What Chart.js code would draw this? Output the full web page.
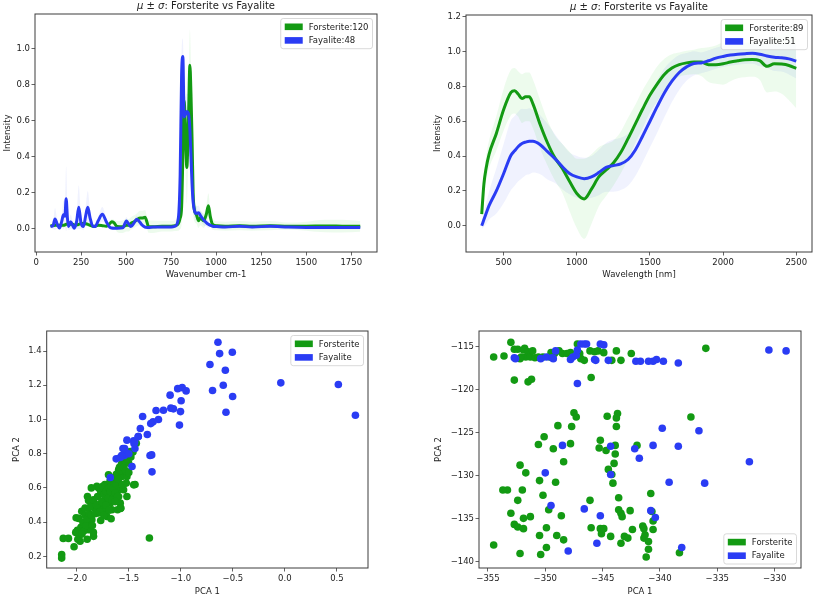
<!DOCTYPE html>
<html>
<head>
<meta charset="utf-8">
<script src="https://cdn.jsdelivr.net/npm/chart.js@4.4.1/dist/chart.umd.min.js"></script>
<style>
  body { margin: 0; background: #fff; width: 817px; height: 597px; position: relative; overflow: hidden; }
  canvas { position: absolute; }
</style>
</head>
<body>
<canvas id="ramanChart" width="408" height="290" style="left:0;top:0"></canvas>
<canvas id="vnirChart" width="409" height="290" style="left:408px;top:0"></canvas>
<canvas id="pcaRamanChart" width="408" height="307" style="left:0;top:290px"></canvas>
<canvas id="pcaVnirChart" width="409" height="307" style="left:408px;top:290px"></canvas>
<script>
// ---- data ----
const seriesNames = ["Forsterite", "Fayalite"];
const ramanCounts = [120, 48];
const vnirCounts = [89, 51];

const ramanShift = [80, 95, 105, 118, 130, 142, 152, 160, 167, 174, 180, 192, 205, 211, 225, 237, 250, 263, 275, 287,
  300, 315, 328, 345, 368, 390, 410, 420, 432, 450, 481, 502, 515, 526, 545, 559, 578, 590, 605, 615,
  624, 650, 700, 750, 772, 790, 800, 808, 815, 822, 828, 837, 846, 854, 860, 866, 872, 880, 890, 902,
  912, 930, 945, 957, 967, 980, 1004, 1050, 1130, 1200, 1300, 1400, 1500, 1600, 1700, 1800];
const ramanFo = [0.017, 0.018, 0.02, 0.02, 0.02, 0.02, 0.02, 0.022, 0.025, 0.025, 0.025, 0.025, 0.025, 0.022, 0.022,
  0.025, 0.03, 0.03, 0.028, 0.025, 0.02, 0.015, 0.015, 0.02, 0.018, 0.015, 0.03, 0.04, 0.035, 0.013,
  0.012, 0.02, 0.02, 0.03, 0.04, 0.05, 0.06, 0.06, 0.065, 0.04, 0.013, 0.012, 0.015, 0.015, 0.018,
  0.03, 0.06, 0.12, 0.4, 0.71, 0.6, 0.34, 0.6, 0.906, 0.75, 0.5, 0.2, 0.1, 0.08, 0.045,
  0.06, 0.045, 0.08, 0.128, 0.07, 0.025, 0.017, 0.015, 0.018, 0.015, 0.018, 0.015, 0.015, 0.016, 0.015, 0.014];
const ramanFa = [0.013, 0.02, 0.055, 0.025, 0.005, 0.04, 0.078, 0.07, 0.167, 0.06, 0.013, 0.04, 0.015, 0.004, 0.04,
  0.12, 0.03, 0.013, 0.07, 0.12, 0.06, 0.015, 0.013, 0.045, 0.081, 0.04, 0.008, 0.005, 0.004, 0.004,
  0.006, 0.044, 0.025, 0.013, 0.035, 0.054, 0.035, 0.02, 0.01, 0.008, 0.007, 0.01, 0.01, 0.01, 0.015,
  0.06, 0.3, 0.85, 0.954, 0.62, 0.63, 0.65, 0.64, 0.55, 0.4, 0.25, 0.15, 0.1, 0.085, 0.09,
  0.075, 0.05, 0.035, 0.025, 0.02, 0.015, 0.013, 0.01, 0.015, 0.01, 0.015, 0.01, 0.008, 0.008, 0.008, 0.008];
const ramanFoStd = [0.01, 0.01, 0.01, 0.01, 0.01, 0.01, 0.012, 0.012, 0.015, 0.012, 0.01, 0.01, 0.01, 0.01, 0.01,
  0.012, 0.012, 0.012, 0.012, 0.012, 0.01, 0.01, 0.01, 0.01, 0.01, 0.01, 0.012, 0.015, 0.015, 0.03,
  0.035, 0.035, 0.035, 0.035, 0.035, 0.035, 0.04, 0.04, 0.04, 0.035, 0.035, 0.035, 0.03, 0.03, 0.03,
  0.04, 0.06, 0.1, 0.15, 0.2, 0.2, 0.2, 0.2, 0.2, 0.18, 0.15, 0.1, 0.06, 0.05, 0.04,
  0.04, 0.04, 0.05, 0.07, 0.04, 0.03, 0.025, 0.025, 0.025, 0.025, 0.025, 0.02, 0.025, 0.035, 0.035, 0.03];
const ramanFaStd = [0.01, 0.02, 0.06, 0.02, 0.01, 0.03, 0.08, 0.06, 0.18, 0.05, 0.02, 0.04, 0.02, 0.01, 0.04,
  0.12, 0.03, 0.02, 0.05, 0.09, 0.04, 0.01, 0.01, 0.02, 0.04, 0.02, 0.01, 0.01, 0.01, 0.01,
  0.01, 0.02, 0.015, 0.01, 0.015, 0.02, 0.015, 0.01, 0.01, 0.01, 0.01, 0.01, 0.01, 0.01, 0.01,
  0.03, 0.08, 0.1, 0.1, 0.1, 0.1, 0.1, 0.1, 0.1, 0.08, 0.06, 0.05, 0.04, 0.04, 0.04,
  0.03, 0.03, 0.02, 0.02, 0.01, 0.01, 0.01, 0.01, 0.01, 0.01, 0.01, 0.01, 0.01, 0.01, 0.01, 0.01];

const vnirWave = [350, 365, 380, 400, 450, 500, 550, 575, 600, 625, 650, 675, 700, 750, 800, 850, 900, 950, 1000, 1050,
  1100, 1150, 1200, 1250, 1300, 1350, 1400, 1450, 1500, 1550, 1600, 1650, 1700, 1750, 1800, 1850, 1900, 1950, 2000, 2050,
  2100, 2150, 2200, 2250, 2300, 2350, 2400, 2450, 2500];
const vnirFo = [0.067, 0.24, 0.33, 0.41, 0.53, 0.667, 0.765, 0.775, 0.755, 0.73, 0.74, 0.74, 0.7, 0.58, 0.475,
  0.39, 0.33, 0.255, 0.185, 0.154, 0.21, 0.28, 0.32, 0.36, 0.42, 0.5, 0.585, 0.67, 0.75, 0.815,
  0.87, 0.905, 0.925, 0.935, 0.94, 0.94, 0.925, 0.925, 0.93, 0.94, 0.947, 0.953, 0.955, 0.948, 0.915,
  0.93, 0.928, 0.92, 0.904];
const vnirFa = [0, 0.035, 0.07, 0.115, 0.2, 0.3, 0.405, 0.43, 0.455, 0.472, 0.48, 0.485, 0.485, 0.465, 0.425,
  0.385, 0.34, 0.3, 0.28, 0.27, 0.28, 0.305, 0.335, 0.345, 0.355, 0.38, 0.435, 0.515, 0.6, 0.685,
  0.765, 0.83, 0.88, 0.912, 0.932, 0.935, 0.947, 0.962, 0.972, 0.98, 0.985, 0.988, 0.99, 0.985, 0.975,
  0.968, 0.965, 0.958, 0.945];
const vnirFoStd = [0.03, 0.05, 0.07, 0.08, 0.1, 0.12, 0.13, 0.13, 0.13, 0.14, 0.14, 0.14, 0.14, 0.14, 0.13,
  0.13, 0.14, 0.17, 0.2, 0.23, 0.2, 0.17, 0.15, 0.13, 0.12, 0.12, 0.11, 0.11, 0.1, 0.1,
  0.09, 0.08, 0.07, 0.07, 0.07, 0.08, 0.1, 0.11, 0.12, 0.11, 0.1, 0.1, 0.1, 0.11, 0.15,
  0.16, 0.17, 0.2, 0.23];
const vnirFaStd = [0.02, 0.04, 0.06, 0.08, 0.13, 0.17, 0.2, 0.2, 0.2, 0.2, 0.19, 0.19, 0.18, 0.17, 0.16,
  0.14, 0.13, 0.12, 0.12, 0.12, 0.12, 0.13, 0.14, 0.15, 0.15, 0.15, 0.15, 0.15, 0.15, 0.15,
  0.14, 0.12, 0.1, 0.08, 0.07, 0.06, 0.06, 0.06, 0.06, 0.06, 0.06, 0.06, 0.06, 0.07, 0.07,
  0.08, 0.08, 0.09, 0.1];

const pcaRamanFo = [[-2.145, 0.21], [-2.145, 0.19], [-2.13, 0.305], [-2.08, 0.305], [-2.026, 0.256], [-2.006, 0.426],
  [-1.981, 0.422], [-1.994, 0.352], [-1.974, 0.326], [-1.968, 0.288], [-1.952, 0.463], [-1.92, 0.482], [-1.897, 0.55],
  [-1.887, 0.527], [-1.897, 0.395], [-1.871, 0.375], [-1.855, 0.414], [-1.887, 0.356], [-1.839, 0.317], [-1.83, 0.511],
  [-1.83, 0.482], [-1.807, 0.472], [-1.791, 0.453], [-1.775, 0.492], [-1.807, 0.609], [-1.759, 0.57], [-1.743, 0.472],
  [-1.717, 0.531], [-1.711, 0.433], [-1.704, 0.589], [-1.678, 0.55], [-1.678, 0.511], [-1.662, 0.472], [-1.646, 0.589],
  [-1.63, 0.628], [-1.646, 0.55], [-1.695, 0.677], [-1.614, 0.628], [-1.598, 0.589], [-1.598, 0.55], [-1.582, 0.511],
  [-1.608, 0.472], [-1.598, 0.706], [-1.566, 0.667], [-1.55, 0.696], [-1.534, 0.745], [-1.518, 0.803], [-1.486, 0.813],
  [-1.502, 0.745], [-1.55, 0.589], [-1.576, 0.482], [-1.518, 0.667], [-1.524, 0.628], [-1.453, 0.618], [-1.428, 0.861],
  [-1.518, 0.55], [-1.302, 0.307], [-2.01, 0.34], [-1.99, 0.3], [-1.96, 0.37], [-1.94, 0.4], [-1.93, 0.35], [-1.92, 0.44],
  [-1.91, 0.38], [-1.9, 0.42], [-1.88, 0.45], [-1.87, 0.49], [-1.86, 0.44], [-1.85, 0.38], [-1.84, 0.53], [-1.82, 0.45],
  [-1.81, 0.5], [-1.8, 0.55], [-1.79, 0.6], [-1.78, 0.46], [-1.77, 0.58], [-1.76, 0.52], [-1.75, 0.61], [-1.74, 0.56],
  [-1.73, 0.62], [-1.72, 0.5], [-1.72, 0.58], [-1.7, 0.62], [-1.7, 0.54], [-1.69, 0.6], [-1.68, 0.64], [-1.68, 0.58],
  [-1.67, 0.61], [-1.66, 0.53], [-1.66, 0.66], [-1.65, 0.6], [-1.64, 0.65], [-1.63, 0.57], [-1.62, 0.62], [-1.62, 0.68],
  [-1.61, 0.55], [-1.6, 0.65], [-1.59, 0.72], [-1.58, 0.7], [-1.57, 0.74], [-1.56, 0.62], [-1.55, 0.72], [-1.54, 0.76],
  [-1.53, 0.7], [-1.52, 0.77], [-1.5, 0.69], [-1.48, 0.78], [-1.46, 0.81], [-1.44, 0.62], [-1.58, 0.48], [-1.63, 0.52],
  [-1.74, 0.44], [-1.77, 0.41], [-1.69, 0.47], [-1.67, 0.42], [-1.84, 0.34], [-1.95, 0.33], [-1.9, 0.3], [-1.86, 0.6]];
const pcaRamanFa = [[-0.643, 1.451], [-0.627, 1.385], [-0.505, 1.393], [-0.72, 1.321], [-0.572, 1.288], [-0.695, 1.169],
  [-0.592, 1.2], [-0.502, 1.134], [-0.566, 1.042], [-0.039, 1.214], [0.514, 1.204], [0.678, 1.025], [-1.103, 1.142],
  [-0.987, 1.186], [-0.949, 1.167], [-0.997, 1.109], [-1.003, 1.046], [-1.096, 1.066], [-1.071, 1.062], [-1.167, 1.054],
  [-1.238, 1.052], [-1.013, 0.967], [-1.215, 1.0], [-1.267, 0.986], [-1.289, 0.976], [-1.367, 1.017], [-1.389, 0.947],
  [-1.322, 0.912], [-1.408, 0.9], [-1.453, 0.875], [-1.441, 0.83], [-1.518, 0.879], [-1.444, 0.867], [-1.556, 0.83],
  [-1.543, 0.789], [-1.569, 0.789], [-1.621, 0.77], [-1.582, 0.778], [-1.469, 0.725], [-1.28, 0.793], [-1.296, 0.789],
  [-1.277, 0.694], [-1.678, 0.661], [-1.45, 0.86], [-1.54, 0.83], [-1.5, 0.8], [-1.41, 0.9], [-1.03, 1.18]];

const pcaVnirFo = [[-354.5, -116.2], [-353.6, -116.1], [-353.0, -114.5], [-352.7, -115.3], [-352.4, -115.3], [-351.8, -115.2],
  [-351.7, -116.2], [-352.1, -116.2], [-352.2, -116.4], [-351.9, -115.4], [-351.5, -115.6], [-351.3, -116.2], [-351.1, -115.5],
  [-350.9, -116.3], [-350.6, -116.2], [-350.2, -116.2], [-349.6, -116.2], [-349.5, -115.7], [-349.2, -115.8], [-348.8, -115.5],
  [-348.5, -115.8], [-348.1, -115.8], [-347.8, -115.7], [-347.2, -114.7], [-347.0, -115.8], [-346.9, -116.4], [-346.6, -116.6],
  [-346.1, -115.5], [-345.7, -115.6], [-345.4, -115.5], [-344.9, -115.7], [-344.2, -116.6], [-343.8, -115.5], [-343.4, -116.6],
  [-342.5, -115.8], [-336.0, -115.2], [-352.7, -118.9], [-351.5, -119.1], [-351.2, -118.8], [-346.0, -118.6],
  [-347.5, -122.7], [-347.3, -123.2], [-348.9, -124.2], [-347.7, -124.3], [-347.8, -126.3], [-348.4, -128.4], [-350.1, -125.5],
  [-350.6, -126.4], [-349.3, -126.9], [-352.2, -128.8], [-351.7, -129.7], [-350.5, -130.6], [-349.1, -130.8], [-353.3, -131.7],
  [-352.0, -131.7], [-352.4, -132.9], [-350.2, -132.3], [-353.0, -134.4], [-351.9, -135.0], [-351.3, -134.8], [-352.7, -135.7],
  [-352.4, -136.0], [-351.9, -136.2], [-349.9, -136.1], [-350.5, -137.0], [-349.9, -138.4], [-350.4, -139.2], [-352.2, -139.1],
  [-354.5, -138.1], [-353.7, -131.7], [-349.7, -134.0], [-348.6, -134.7], [-349.0, -137.0], [-348.4, -137.5], [-346.1, -132.9],
  [-346.0, -136.1], [-345.2, -125.9], [-345.3, -126.8], [-345.2, -136.2], [-345.1, -136.8], [-344.9, -136.2], [-344.7, -127.1],
  [-344.5, -129.3], [-344.2, -129.9], [-344.1, -130.9], [-344.0, -128.6], [-343.9, -127.5], [-343.9, -126.5], [-343.8, -124.3],
  [-343.7, -122.8], [-343.8, -123.3], [-344.6, -123.1], [-343.6, -132.6], [-343.6, -134.0], [-343.4, -134.4], [-343.3, -134.8],
  [-344.3, -137.1], [-343.4, -137.9], [-343.1, -137.1], [-342.8, -137.3], [-342.6, -134.1], [-342.4, -136.3], [-342.0, -126.5],
  [-341.5, -135.9], [-341.4, -136.2], [-341.4, -137.3], [-341.3, -136.9], [-341.2, -139.5], [-341.0, -138.6], [-341.0, -137.7],
  [-340.8, -132.1], [-340.7, -134.2], [-340.6, -135.3], [-340.6, -136.3], [-338.3, -139.0], [-337.3, -123.2]];
const pcaVnirFa = [[-352.7, -116.3], [-352.6, -116.4], [-350.4, -116.4], [-349.9, -116.2], [-349.4, -116.3], [-349.3, -116.4],
  [-349.1, -115.5], [-347.8, -116.5], [-347.6, -116.2], [-347.3, -116.0], [-347.2, -115.4], [-346.9, -114.7], [-346.6, -114.7],
  [-346.4, -114.7], [-345.7, -116.5], [-345.6, -116.6], [-345.2, -114.7], [-344.9, -114.8], [-344.5, -116.6], [-342.1, -116.7],
  [-341.7, -116.7], [-341.0, -116.7], [-340.6, -116.7], [-340.3, -116.5], [-339.7, -116.7], [-338.4, -116.9], [-347.2, -119.3],
  [-330.5, -115.4], [-329.0, -115.5], [-348.5, -126.5], [-350.0, -129.7], [-349.5, -133.5], [-346.6, -133.9], [-345.2, -134.7],
  [-345.5, -137.9], [-348.0, -138.8], [-344.3, -126.6], [-344.3, -129.9], [-342.2, -126.9], [-341.8, -128.0], [-340.6, -126.5],
  [-340.8, -134.1], [-340.4, -134.9], [-339.8, -124.5], [-339.2, -130.8], [-338.4, -126.6], [-338.1, -138.4], [-336.6, -124.8],
  [-336.1, -130.9], [-332.2, -128.4]];

const ramanXTicks = [0, 250, 500, 750, 1000, 1250, 1500, 1750];
const ramanYTicks = [0, 0.2, 0.4, 0.6, 0.8, 1.0];
const vnirXTicks = [500, 1000, 1500, 2000, 2500];
const vnirYTicks = [0, 0.2, 0.4, 0.6, 0.8, 1.0, 1.2];
const pcaRamanXTicks = [-2.0, -1.5, -1.0, -0.5, 0.0, 0.5];
const pcaRamanYTicks = [0.2, 0.4, 0.6, 0.8, 1.0, 1.2, 1.4];
const pcaVnirXTicks = [-355, -350, -345, -340, -335, -330];
const pcaVnirYTicks = [-140, -135, -130, -125, -120, -115];

// ---- styling ----
const colors = {
  green: "#139a13",
  blue: "#2a3cf4",
  greenBand: "rgba(0, 200, 0, 0.07)",
  blueBand: "rgba(40, 70, 240, 0.07)",
  text: "#222",
  spine: "#3c3c3c",
};
const titleParts = [["μ", true], [" ± ", false], ["σ", true], [": Forsterite vs Fayalite", false]];

Chart.defaults.font.family = "'DejaVu Sans', sans-serif";
Chart.defaults.font.size = 8.5;
Chart.defaults.color = colors.text;

function roundRect(ctx, x, y, w, h, r) {
  ctx.beginPath();
  ctx.moveTo(x + r, y);
  ctx.lineTo(x + w - r, y);
  ctx.arcTo(x + w, y, x + w, y + r, r);
  ctx.lineTo(x + w, y + h - r);
  ctx.arcTo(x + w, y + h, x + w - r, y + h, r);
  ctx.lineTo(x + r, y + h);
  ctx.arcTo(x, y + h, x, y + h - r, r);
  ctx.lineTo(x, y + r);
  ctx.arcTo(x, y, x + r, y, r);
  ctx.closePath();
}

// box around the plot area, optional title, matplotlib style legend
const framePlugin = {
  id: "frame",
  afterDraw(chart, args, opts) {
    const { ctx, chartArea: a } = chart;
    ctx.save();
    ctx.strokeStyle = colors.spine;
    ctx.lineWidth = 1;
    ctx.strokeRect(a.left, a.top, a.right - a.left, a.bottom - a.top);

    if (opts.title) {
      const fonts = (it) => `${it ? "oblique " : ""}10px 'DejaVu Sans', sans-serif`;
      let total = 0;
      opts.title.forEach(([t, it]) => { ctx.font = fonts(it); total += ctx.measureText(t).width; });
      let x = (a.left + a.right) / 2 - total / 2;
      ctx.fillStyle = colors.text;
      ctx.textBaseline = "middle";
      ctx.textAlign = "left";
      opts.title.forEach(([t, it]) => {
        ctx.font = fonts(it);
        ctx.fillText(t, x, a.top - 8);
        x += ctx.measureText(t).width;
      });
    }

    if (opts.legend) {
      ctx.font = "8.5px 'DejaVu Sans', sans-serif";
      const items = opts.legend;
      const textW = Math.max(...items.map((it) => ctx.measureText(it.label).width));
      const rowH = 13.6;
      const w = 4 + 18 + 6 + textW + 4;
      const h = items.length * rowH + 3;
      const x = a.right - 4.5 - w;
      const y = opts.legendCorner === "bottom" ? a.bottom - 4 - h : a.top + 4.5;
      roundRect(ctx, x, y, w, h, 2.5);
      ctx.fillStyle = "rgba(255,255,255,0.85)";
      ctx.fill();
      ctx.strokeStyle = "#cfcfcf";
      ctx.lineWidth = 0.8;
      ctx.stroke();
      ctx.textBaseline = "middle";
      items.forEach((it, i) => {
        const cy = y + 1.5 + rowH * (i + 0.5);
        ctx.fillStyle = it.color;
        ctx.fillRect(x + 4, cy - 3.3, 18, 6.6);
        ctx.fillStyle = colors.text;
        ctx.fillText(it.label, x + 4 + 18 + 6, cy + 0.5);
      });
    }
    ctx.restore();
  },
};

function tickFormat(decimals) {
  return (value) => Number(value).toFixed(decimals).replace("-", "\u2212");
}

function makeAxis(position, title, ticks, min, max, decimals, titlePad) {
  const isY = position === "left";
  return {
    type: "linear",
    position,
    min,
    max,
    afterBuildTicks: (scale) => { scale.ticks = ticks.map((value) => ({ value })); },
    ticks: { callback: tickFormat(decimals), padding: isY ? 1.5 : 2.5, autoSkip: false, maxRotation: 0, color: colors.text },
    grid: { drawOnChartArea: false, drawTicks: true, tickLength: 3.5, color: colors.spine, lineWidth: 0.8 },
    border: { display: false },
    title: {
      display: true,
      text: title,
      color: colors.text,
      padding: isY ? { top: titlePad, bottom: 0 } : { top: 0, bottom: titlePad },
    },
  };
}

function xy(xs, ys) {
  return xs.map((x, i) => ({ x, y: ys[i] }));
}

function bandDatasets(xs, mean, std, color) {
  return [
    { data: xy(xs, mean.map((v, i) => v + std[i])), borderColor: "transparent", borderWidth: 0, pointRadius: 0,
      backgroundColor: color, fill: "+1", cubicInterpolationMode: "monotone", order: 5 },
    { data: xy(xs, mean.map((v, i) => v - std[i])), borderColor: "transparent", borderWidth: 0, pointRadius: 0,
      fill: false, cubicInterpolationMode: "monotone", order: 5 },
  ];
}

function lineDataset(xs, ys, color, order) {
  return { data: xy(xs, ys), borderColor: color, borderWidth: 3, pointRadius: 0, fill: false,
    cubicInterpolationMode: "monotone", order };
}

function pointDataset(points, color, order) {
  return { data: points.map(([x, y]) => ({ x, y })), backgroundColor: color, borderWidth: 0,
    pointRadius: 3.8, order };
}

function renderPanel(id, type, layout, datasets, xAxis, yAxis, frame) {
  const [bx, by, bw, bh] = layout.box;
  const [al, at, ar, ab] = layout.area;
  xAxis.afterFit = (scale) => { scale.height = by + bh - ab; };
  yAxis.afterFit = (scale) => { scale.width = al - bx; };
  return new Chart(document.getElementById(id), {
    type,
    data: { datasets },
    options: {
      responsive: false,
      animation: false,
      layout: { padding: { left: 0, top: at - by, right: bx + bw - ar, bottom: 0 } },
      plugins: { legend: { display: false }, tooltip: { enabled: false }, frame },
      scales: { x: xAxis, y: yAxis },
    },
    plugins: [framePlugin],
  });
}

const legendItems = (counts) => seriesNames.map((name, i) => ({
  label: counts ? `${name}:${counts[i]}` : name,
  color: i === 0 ? colors.green : colors.blue,
}));

renderPanel("ramanChart", "line", { box: [0, 0, 408, 290], area: [35, 14, 377, 252] },
  [
    lineDataset(ramanShift, ramanFa, colors.blue, 1),
    lineDataset(ramanShift, ramanFo, colors.green, 2),
    ...bandDatasets(ramanShift, ramanFo, ramanFoStd, colors.greenBand),
    ...bandDatasets(ramanShift, ramanFa, ramanFaStd, colors.blueBand),
  ],
  makeAxis("bottom", "Wavenumber cm-1", ramanXTicks, -6, 1893, 0, 10.6),
  makeAxis("left", "Intensity", ramanYTicks, -0.128, 1.19, 1, 2.2),
  { title: titleParts, legend: legendItems(ramanCounts) });

renderPanel("vnirChart", "line", { box: [408, 0, 409, 290], area: [466, 15, 812, 252] },
  [
    lineDataset(vnirWave, vnirFa, colors.blue, 1),
    lineDataset(vnirWave, vnirFo, colors.green, 2),
    ...bandDatasets(vnirWave, vnirFo, vnirFoStd, colors.greenBand),
    ...bandDatasets(vnirWave, vnirFa, vnirFaStd, colors.blueBand),
  ],
  makeAxis("bottom", "Wavelength [nm]", vnirXTicks, 242.5, 2607.5, 0, 10.6),
  makeAxis("left", "Intensity", vnirYTicks, -0.151, 1.21, 1, 24.9),
  { title: titleParts, legend: legendItems(vnirCounts) });

renderPanel("pcaRamanChart", "scatter", { box: [0, 290, 408, 307], area: [46.7, 331, 368, 568] },
  [pointDataset(pcaRamanFa, colors.blue, 1), pointDataset(pcaRamanFo, colors.green, 2)],
  makeAxis("bottom", "PCA 1", pcaRamanXTicks, -2.289, 0.799, 1, 0.2),
  makeAxis("left", "PCA 2", pcaRamanYTicks, 0.132, 1.517, 1, 11.6),
  { legend: legendItems(null) });

renderPanel("pcaVnirChart", "scatter", { box: [408, 290, 409, 307], area: [479, 331, 801, 568] },
  [pointDataset(pcaVnirFa, colors.blue, 1), pointDataset(pcaVnirFo, colors.green, 2)],
  makeAxis("bottom", "PCA 1", pcaVnirXTicks, -355.78, -327.7, 0, 0.2),
  makeAxis("left", "PCA 2", pcaVnirYTicks, -140.78, -113.18, 0, 25.6),
  { legend: legendItems(null), legendCorner: "bottom" });
</script>
</body>
</html>
